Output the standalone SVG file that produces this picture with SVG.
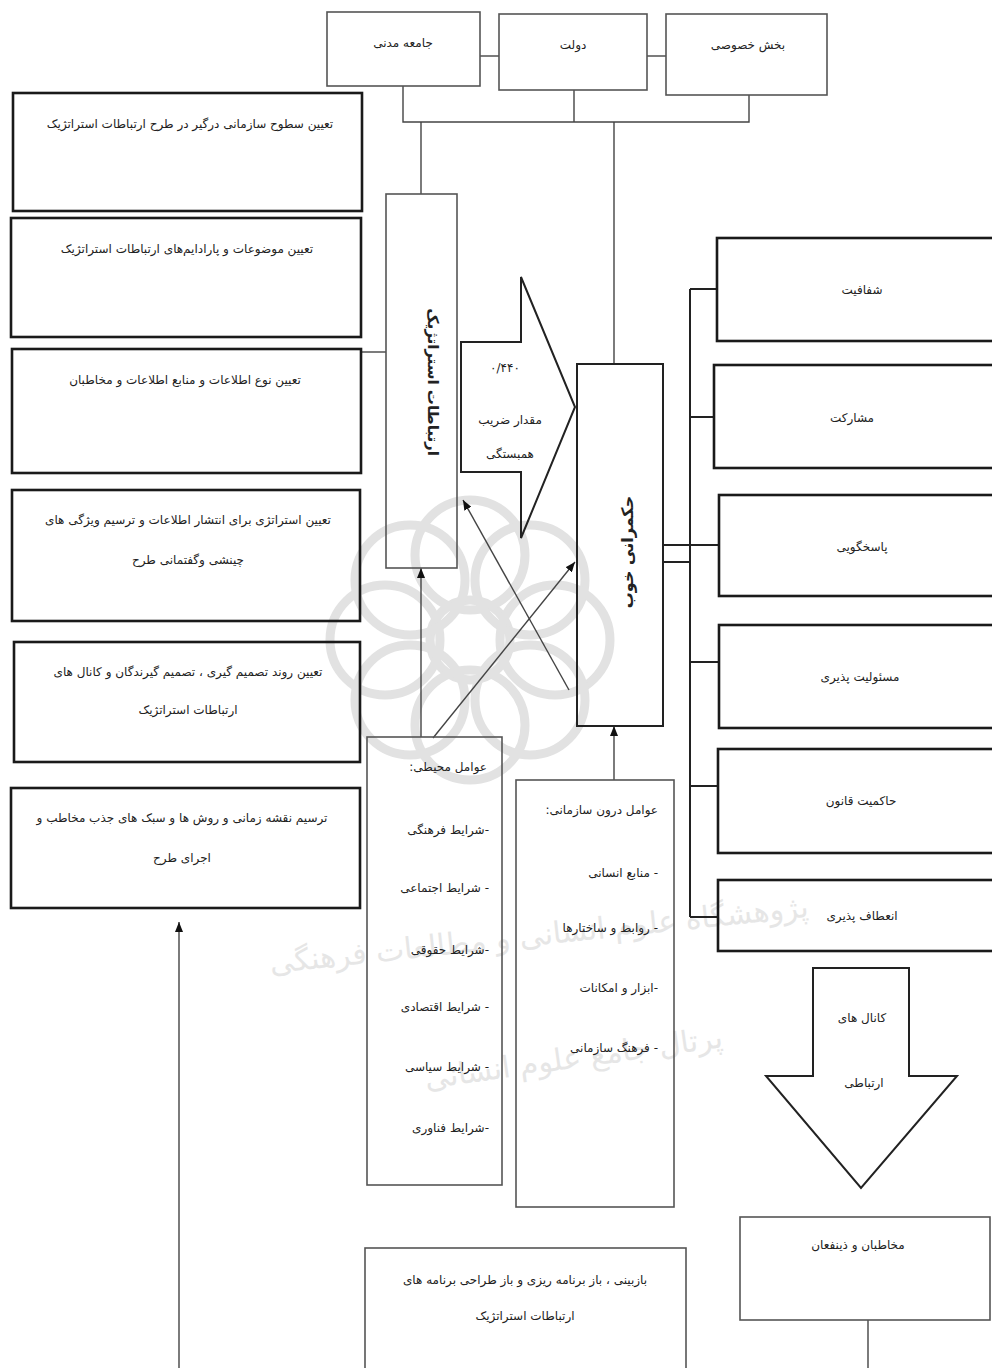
<svg xmlns="http://www.w3.org/2000/svg" width="992" height="1368" viewBox="0 0 992 1368">
<style>
  .t { font-family: "DejaVu Sans", "Noto Sans", sans-serif; font-size: 12px; fill: #222; direction: rtl; text-anchor: middle; }
  .tr { text-anchor: start; }
  .thick { fill: none; stroke: #1a1a1a; stroke-width: 2.6; }
  .thin { fill: none; stroke: #555; stroke-width: 1.6; }
  .mid { fill: none; stroke: #222; stroke-width: 2; }
  .c { fill: none; stroke: #444; stroke-width: 1.4; }
  .cb { fill: none; stroke: #222; stroke-width: 2; }
  .wm { fill: none; stroke: #e2e2e2; stroke-width: 9; }
  .wmt { font-family: "DejaVu Sans", sans-serif; font-size: 30px; fill: #e6e6e6; direction: rtl; text-anchor: middle; }
</style>
<defs>
  <marker id="arr" viewBox="0 0 10 8" refX="10" refY="4" markerWidth="10" markerHeight="8" markerUnits="userSpaceOnUse" orient="auto">
    <path d="M0,0 L10,4 L0,8 z" fill="#111"/>
  </marker>
</defs>
<rect width="992" height="1368" fill="#fff"/>

<g id="watermark">
  <g transform="translate(470,640)">
    <circle r="40" class="wm"/>
    <circle cx="0" cy="-85" r="55" class="wm"/>
    <circle cx="60" cy="-60" r="55" class="wm"/>
    <circle cx="85" cy="0" r="55" class="wm"/>
    <circle cx="60" cy="60" r="55" class="wm"/>
    <circle cx="0" cy="85" r="55" class="wm"/>
    <circle cx="-60" cy="60" r="55" class="wm"/>
    <circle cx="-85" cy="0" r="55" class="wm"/>
    <circle cx="-60" cy="-60" r="55" class="wm"/>
  </g>
  <text class="wmt" transform="translate(540,945) rotate(-6)">پژوهشگاه علوم انسانی و مطالعات فرهنگی</text>
  <text class="wmt" transform="translate(575,1068) rotate(-8)">پرتال جامع علوم انسانی</text>
</g>

<g id="connectors">
  <line x1="480" y1="56" x2="499" y2="56" class="c"/>
  <line x1="647" y1="56" x2="666" y2="56" class="c"/>
  <polyline points="403,86 403,122 749,122 749,95" class="c"/>
  <line x1="574" y1="90" x2="574" y2="122" class="c"/>
  <line x1="421" y1="122" x2="421" y2="194" class="c"/>
  <line x1="614" y1="122" x2="614" y2="364" class="c"/>
  <line x1="361" y1="352" x2="386" y2="352" class="c"/>
  <line x1="421" y1="737" x2="421" y2="568" class="c" marker-end="url(#arr)"/>
  <line x1="433" y1="738" x2="575" y2="562" class="c" marker-end="url(#arr)"/>
  <line x1="569" y1="690" x2="463" y2="500" class="c" marker-end="url(#arr)"/>
  <line x1="614" y1="780" x2="614" y2="726" class="c" marker-end="url(#arr)"/>
  <line x1="690" y1="289" x2="690" y2="917" class="cb"/>
  <line x1="690" y1="289" x2="717" y2="289" class="cb"/>
  <line x1="690" y1="417" x2="714" y2="417" class="cb"/>
  <line x1="663" y1="545" x2="719" y2="545" class="cb"/>
  <line x1="663" y1="562" x2="690" y2="562" class="cb"/>
  <line x1="690" y1="662" x2="719" y2="662" class="cb"/>
  <line x1="690" y1="786" x2="718" y2="786" class="cb"/>
  <line x1="690" y1="917" x2="718" y2="917" class="cb"/>
  <line x1="179" y1="1368" x2="179" y2="922" class="c" marker-end="url(#arr)"/>
  <line x1="868" y1="1320" x2="868" y2="1368" class="c"/>
</g>

<g id="jameh">
  <rect x="327" y="12" width="153" height="74" class="thin"/>
  <text class="t" x="403" y="47">جامعه مدنی</text>
</g>
<g id="dolat">
  <rect x="499" y="14" width="148" height="76" class="thin"/>
  <text class="t" x="573" y="49">دولت</text>
</g>
<g id="khosusi">
  <rect x="666" y="14" width="161" height="81" class="thin"/>
  <text class="t" x="748" y="49">بخش خصوصی</text>
</g>

<g id="left1">
  <rect x="13" y="93" width="349" height="118" class="thick"/>
  <text class="t" x="190" y="128">تعیین سطوح سازمانی درگیر در طرح ارتباطات استراتژیک</text>
</g>
<g id="left2">
  <rect x="11" y="218" width="350" height="119" class="thick"/>
  <text class="t" x="187" y="253">تعیین موضوعات و پارادایم‌های ارتباطات استراتژیک</text>
</g>
<g id="left3">
  <rect x="12" y="349" width="349" height="124" class="thick"/>
  <text class="t" x="185" y="384">تعیین نوع اطلاعات و منابع اطلاعات و مخاطبان</text>
</g>
<g id="left4">
  <rect x="12" y="490" width="348" height="131" class="thick"/>
  <text class="t" x="188" y="524">تعیین استراتژی برای انتشار اطلاعات  و ترسیم ویژگی های</text>
  <text class="t" x="188" y="564">چینشی وگفتمانی طرح</text>
</g>
<g id="left5">
  <rect x="14" y="642" width="346" height="120" class="thick"/>
  <text class="t" x="188" y="676">تعیین روند تصمیم گیری ، تصمیم گیرندگان و کانال های</text>
  <text class="t" x="188" y="714">ارتباطات استراتژیک</text>
</g>
<g id="left6">
  <rect x="11" y="788" width="349" height="120" class="thick"/>
  <text class="t" x="182" y="822">ترسیم نقشه زمانی  و روش ها و سبک های جذب مخاطب و</text>
  <text class="t" x="182" y="862">اجرای طرح</text>
</g>

<g id="ertebatat">
  <rect x="386" y="194" width="71" height="374" class="thin"/>
  <text class="t" transform="translate(428,382) rotate(90)" style="font-size:15px;font-weight:bold">ارتباطات استراتژیک</text>
</g>

<g id="correlation">
  <polygon points="461,342 521,342 521,277 575,407 521,538 521,472 461,472" class="mid"/>
  <text class="t" x="505" y="372">۰/۴۴۰</text>
  <text class="t" x="510" y="424">مقدار ضریب</text>
  <text class="t" x="510" y="458">همبستگی</text>
</g>

<g id="hokmrani">
  <rect x="577" y="364" width="86" height="362" class="mid"/>
  <text class="t" transform="translate(633,552) rotate(-90)" style="font-size:16px;font-weight:bold">حکمرانی خوب</text>
</g>

<g id="mohiti">
  <rect x="367" y="737" width="135" height="448" class="thin"/>
  <text class="t tr" x="487" y="771">عوامل محیطی:</text>
  <text class="t tr" x="489" y="834">-شرایط فرهنگی</text>
  <text class="t tr" x="489" y="892">- شرایط اجتماعی</text>
  <text class="t tr" x="489" y="954">-شرایط حقوقی</text>
  <text class="t tr" x="489" y="1011">- شرایط اقتصادی</text>
  <text class="t tr" x="489" y="1071">- شرایط سیاسی</text>
  <text class="t tr" x="489" y="1132">-شرایط فناوری</text>
</g>

<g id="darunsazmani">
  <rect x="516" y="780" width="158" height="427" class="thin"/>
  <text class="t tr" x="658" y="814">عوامل درون سازمانی:</text>
  <text class="t tr" x="658" y="877">- منابع انسانی</text>
  <text class="t tr" x="658" y="932">- روابط و ساختارها</text>
  <text class="t tr" x="658" y="992">-ابزار و امکانات</text>
  <text class="t tr" x="658" y="1052">- فرهنگ سازمانی</text>
</g>

<g id="shafafiat">
  <rect x="717" y="238" width="290" height="103" class="thick"/>
  <text class="t" x="862" y="294">شفافیت</text>
</g>
<g id="mosharekat">
  <rect x="714" y="365" width="290" height="103" class="thick"/>
  <text class="t" x="852" y="422">مشارکت</text>
</g>
<g id="pasokhgui">
  <rect x="719" y="495" width="290" height="101" class="thick"/>
  <text class="t" x="862" y="551">پاسخگویی</text>
</g>
<g id="masuliat">
  <rect x="719" y="625" width="290" height="103" class="thick"/>
  <text class="t" x="860" y="681">مسئولیت پذیری</text>
</g>
<g id="hakemiat">
  <rect x="718" y="749" width="290" height="104" class="thick"/>
  <text class="t" x="861" y="805">حاکمیت قانون</text>
</g>
<g id="enetaf">
  <rect x="718" y="880" width="290" height="71" class="thick"/>
  <text class="t" x="862" y="920">انعطاف پذیری</text>
</g>

<g id="kanalha">
  <polygon points="813,968 909,968 909,1076 957,1076 861,1188 766,1076 813,1076" class="mid"/>
  <text class="t" x="862" y="1022">کانال های</text>
  <text class="t" x="864" y="1087">ارتباطی</text>
</g>

<g id="mokhatabin">
  <rect x="740" y="1217" width="250" height="103" class="thin"/>
  <text class="t" x="858" y="1249">مخاطبان و ذینفعان</text>
</g>

<g id="bazbini">
  <rect x="365" y="1248" width="321" height="130" class="thin"/>
  <text class="t" x="525" y="1284">بازبینی ، باز برنامه ریزی و باز طراحی برنامه های</text>
  <text class="t" x="525" y="1320">ارتباطات استراتژیک</text>
</g>
</svg>
